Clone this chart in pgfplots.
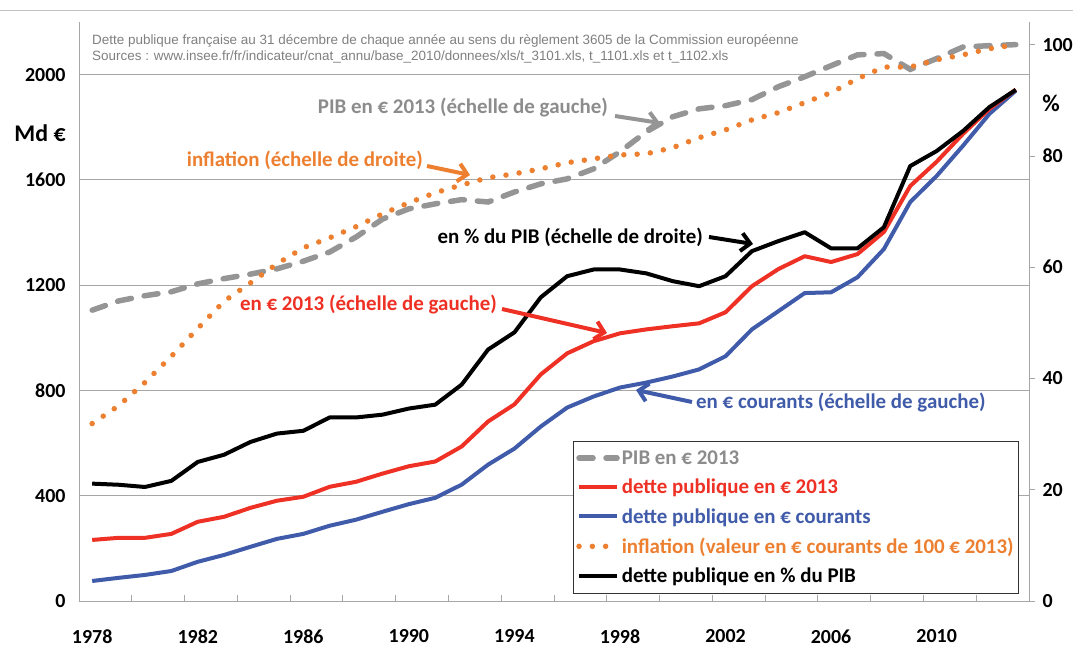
\documentclass[border=0pt]{standalone}
\usepackage{fontspec}
\setmainfont{Carlito}
\newfontfamily\arial{Liberation Sans}
\usepackage{pgfplots}
\pgfplotsset{compat=1.18}
\usetikzlibrary{arrows.meta}

\definecolor{pibgray}{HTML}{959595}
\definecolor{txtgray}{HTML}{8C8C8C}
\definecolor{detred}{HTML}{EE3124}
\definecolor{detblue}{HTML}{3F5BA9}
\definecolor{infor}{HTML}{EC8030}
\definecolor{gridgray}{HTML}{A6A6A6}
\definecolor{hdrgray}{HTML}{7F7F7F}

\pgfkeys{/pgf/number format/1000 sep={}}

% annee, dette courants, dette 2013, PIB 2013 (Md EUR)
\pgfplotstableread{
yr   cour  e2013  pib
1978 76    232    1105
1979 88    240    1140
1980 99    240    1160
1981 114   255    1175
1982 149   301    1205
1983 175   320    1225
1984 206   354    1242
1985 236   381    1262
1986 255   396    1291
1987 286   434    1326
1988 309   453    1383
1989 339   484    1451
1990 368   512    1490
1991 392   530    1509
1992 442   587    1525
1993 518   682    1516
1994 579   747    1554
1995 663   861    1585
1996 735   941    1604
1997 777   987    1642
1998 811   1017   1707
1999 830   1032   1783
2000 853   1044   1840
2001 880   1055   1870
2002 930   1097   1882
2003 1032  1196   1905
2004 1101  1261   1954
2005 1170  1310   1992
2006 1173  1288   2034
2007 1230  1318   2075
2008 1337  1402   2080
2009 1516  1577   2020
2010 1615  1669   2061
2011 1730  1775   2105
2012 1851  1870   2110
2013 1939  1943   2114
}\gauche

% annee, inflation (indice 2013=100), dette en % du PIB
\pgfplotstableread{
yr   infl  pct
1978 31.9  21.1
1979 35.1  20.9
1980 39.3  20.5
1981 44.0  21.6
1982 49.0  25.0
1983 53.9  26.3
1984 57.2  28.6
1985 60.6  30.1
1986 63.5  30.6
1987 65.3  33.0
1988 67.3  33.0
1989 69.6  33.5
1990 71.6  34.6
1991 73.4  35.3
1992 74.8  38.9
1993 76.1  45.2
1994 76.8  48.3
1995 77.7  54.6
1996 78.8  58.4
1997 79.5  59.6
1998 80.2  59.6
1999 80.4  58.9
2000 81.5  57.5
2001 83.3  56.6
2002 84.7  58.4
2003 86.5  62.9
2004 87.8  64.7
2005 89.6  66.3
2006 91.4  63.4
2007 93.9  63.4
2008 96.0  67.2
2009 96.0  78.2
2010 97.3  80.9
2011 98.2  84.5
2012 99.3  88.8
2013 100.0 91.9
}\droite

\pgfplotsset{
  base/.style={
    scale only axis, width=950bp, height=579bp,
    xmin=1977.5, xmax=2013.5, ymin=0,
    axis line style={draw=gridgray, line width=0.8bp},
    major tick style={draw=gridgray, line width=0.8bp},
    major tick length=6bp,
    tick label style={font=\bfseries\fontsize{20}{20}\selectfont,
      /pgf/number format/assume math mode=true},
  },
  pibst/.style={pibgray, line width=5.5bp, line cap=round, dash pattern=on 14bp off 13bp},
  redst/.style={detred, line width=4bp, line join=round},
  bluest/.style={detblue, line width=4bp, line join=round},
  infst/.style={infor, line width=5.5bp, line cap=round, dash pattern=on 0bp off 13.3bp},
  blackst/.style={black, line width=4bp, line join=round},
}

\begin{document}
\begin{tikzpicture}[x=1bp,y=1bp]
\path[use as bounding box] (-79,-59) rectangle (994,601);

\begin{axis}[base,
  ymax=2200,
  axis y line*=left, axis x line*=bottom,
  tick align=inside,
  ytick={0,400,...,2000},
  ymajorgrids, grid style={draw=gridgray, line width=0.8bp},
  yticklabel style={xshift=-10bp},
  xtick={1979.5,1981.5,...,2013.5}, xticklabels={},
  extra x ticks={1978,1982,...,2010},
  extra x tick style={major tick length=0pt, grid=none,
    tick label style={yshift=-25bp}},
]
\addplot[bluest] table[x=yr, y=cour] {\gauche};
\addplot[redst] table[x=yr, y=e2013] {\gauche};
\addplot[pibst] table[x=yr, y=pib] {\gauche};
\end{axis}

\begin{axis}[base,
  ymax=104.1,
  axis y line*=right, axis x line=none,
  tick align=outside,
  ytick={0,20,...,100},
  yticklabel style={xshift=4bp},
  legend style={at={(0.9895,0.2763)}, anchor=north east,
    draw=black!80, line width=0.8bp, fill=white,
    font=\bfseries\fontsize{21}{24}\selectfont,
    row sep=9.3bp, inner xsep=3bp, inner ysep=7bp},
  legend cell align=left,
  legend image code/.code={\draw[#1] (0bp,0bp) -- (38bp,0bp);},
]
\addlegendimage{pibst}
\addlegendentry{\textcolor{txtgray}{PIB en € 2013}}
\addlegendimage{redst}
\addlegendentry{\textcolor{detred}{dette publique en € 2013}}
\addlegendimage{bluest}
\addlegendentry{\textcolor{detblue}{dette publique en € courants}}
\addplot[infst] table[x=yr, y=infl] {\droite};
\addlegendentry{\textcolor{infor}{inflation (valeur en € courants de 100 € 2013)}}
\addplot[blackst] table[x=yr, y=pct] {\droite};
\addlegendentry{dette publique en \% du PIB}
\end{axis}

% cadre haut
\draw[gridgray!70, line width=0.8bp] (-79,591) -- (994,591);

% en-tete
\node[anchor=west, text=hdrgray, font=\arial\fontsize{13.5}{13.5}\selectfont, inner sep=0] at (13,560)
  {Dette publique française au 31 décembre de chaque année au sens du règlement 3605 de la Commission européenne};
\node[anchor=west, text=hdrgray, font=\arial\fontsize{13.5}{13.5}\selectfont, inner sep=0] at (13,544)
  {Sources : www.insee.fr/fr/indicateur/cnat\_annu/base\_2010/donnees/xls/t\_3101.xls, t\_1101.xls et t\_1102.xls};

% titres des axes
\node[font=\bfseries\fontsize{24}{24}\selectfont] at (-39,468) {Md €};
\node[font=\bfseries\fontsize{24}{24}\selectfont] at (972,498) {\%};

% annotations
\tikzset{ann/.style={font=\bfseries\fontsize{21}{21}\selectfont, inner sep=0}}
\node[ann, text=txtgray, anchor=east] at (529,493) {PIB en € 2013 (échelle de gauche)};
\draw[pibgray, line width=4bp, -{Straight Barb[length=9bp,width=18bp]}] (536,485) -- (581,478);

\node[ann, text=infor, anchor=east] at (344,441) {inflation (échelle de droite)};
\draw[infor, line width=4bp, -{Straight Barb[length=9bp,width=18bp]}] (348,435) -- (391,426);

\node[ann, text=black, anchor=east] at (624,364) {en \% du PIB (échelle de droite)};
\draw[black, line width=4bp, -{Straight Barb[length=9bp,width=18bp]}] (630,364) -- (674,357);

\node[ann, text=detred, anchor=east] at (418,296) {en € 2013 (échelle de gauche)};
\draw[detred, line width=4bp, -{Straight Barb[length=9bp,width=18bp]}] (423,292) -- (528,268);

\node[ann, text=detblue, anchor=west] at (617,198) {en € courants (échelle de gauche)};
\draw[detblue, line width=4bp, -{Straight Barb[length=9bp,width=18bp]}] (613,199) -- (557,211);

\end{tikzpicture}
\end{document}
